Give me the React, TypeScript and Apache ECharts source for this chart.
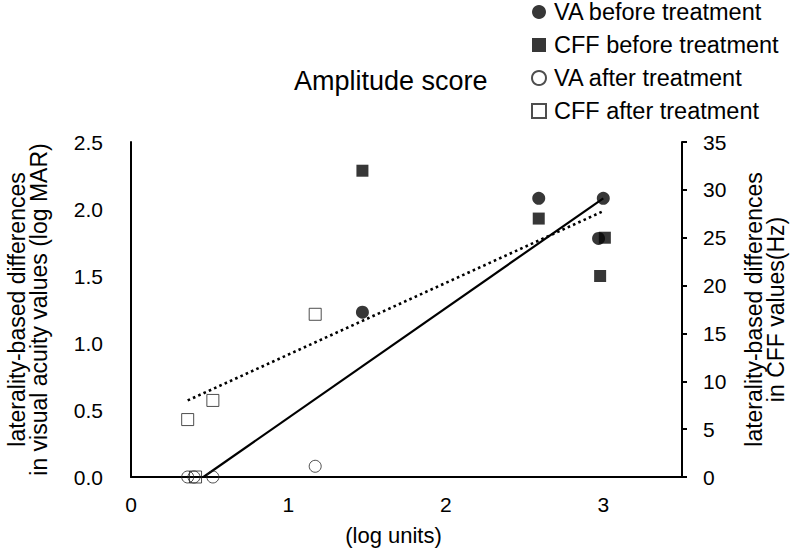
import React, { useEffect, useRef } from "react";
import * as echarts from "echarts";

// ---- data ----
const vaBefore: [number, number][] = [
  [1.47, 1.23],
  [2.59, 2.08],
  [3.0, 2.08],
  [2.97, 1.78],
];
const cffBefore: [number, number][] = [
  [1.47, 32],
  [2.59, 27],
  [3.01, 25],
  [2.98, 21],
];
const vaAfter: [number, number][] = [
  [0.36, 0],
  [0.4, 0],
  [0.52, 0],
  [1.17, 0.08],
];
const cffAfter: [number, number][] = [
  [0.36, 6],
  [0.52, 8],
  [1.17, 17],
  [0.41, 0],
];
// regression lines (end points)
const vaTrend: [number, number][] = [
  [0.46, 0],
  [3.0, 2.08],
];
const cffTrend: [number, number][] = [
  [0.36, 8.0],
  [2.99, 27.7],
];

const leftAxisName = "laterality-based differences\nin visual acuity values (log MAR)";
const rightAxisName = "laterality-based differences\nin CFF values(Hz)";
const xAxisName = "(log units)";
const titleText = "Amplitude score";
const legendNames = [
  "VA before treatment",
  "CFF before treatment",
  "VA after treatment",
  "CFF after treatment",
];

const FONT = "'Liberation Sans', Arial, Helvetica, sans-serif";
const INK = "#000000";

export default function App() {
  const ref = useRef<HTMLDivElement>(null);

  useEffect(() => {
    if (!ref.current) return;
    const chart = echarts.init(ref.current, undefined, { renderer: "svg" });
    const axisLine = { show: true, lineStyle: { color: INK, width: 2 } };
    chart.setOption({
      animation: false,
      backgroundColor: "#ffffff",
      textStyle: { fontFamily: FONT, color: INK },
      title: {
        text: titleText,
        left: 294,
        top: 67,
        padding: 0,
        textStyle: { fontSize: 27, fontWeight: "normal", color: INK, fontFamily: FONT },
      },
      legend: {
        data: legendNames,
        orient: "vertical",
        left: 531,
        top: 0,
        padding: 0,
        itemGap: 9,
        itemWidth: 14,
        itemHeight: 14,
        selectedMode: false,
        textStyle: {
          fontSize: 23.5,
          lineHeight: 22,
          color: INK,
          fontFamily: FONT,
          padding: [0, 0, 0, 3],
        },
      },
      grid: {
        left: 131,
        right: 118,
        top: 142,
        bottom: 75,
        containLabel: false,
        outerBoundsMode: "none",
      },
      xAxis: {
        type: "value",
        min: 0,
        max: 3.5,
        interval: 1,
        name: xAxisName,
        nameLocation: "middle",
        nameGap: 47,
        nameTextStyle: { fontSize: 22, color: INK, fontFamily: FONT, padding: [0, 26, 0, 0] },
        axisLine,
        axisTick: { show: false },
        splitLine: { show: false },
        axisLabel: {
          fontSize: 21,
          color: INK,
          margin: 17,
          showMaxLabel: false,
          formatter: (v: number) => (Number.isInteger(v) ? String(v) : ""),
        },
      },
      yAxis: [
        {
          type: "value",
          min: 0,
          max: 2.5,
          interval: 0.5,
          position: "left",
          name: leftAxisName,
          nameLocation: "middle",
          nameGap: 81,
          nameTextStyle: { fontSize: 23, color: INK, fontFamily: FONT, lineHeight: 22 },
          axisLine,
          axisTick: { show: false },
          splitLine: { show: false },
          axisLabel: {
            fontSize: 21,
            color: INK,
            margin: 28,
            formatter: (v: number) => v.toFixed(1),
          },
        },
        {
          type: "value",
          min: 0,
          max: 35,
          interval: 5,
          position: "right",
          name: rightAxisName,
          nameLocation: "middle",
          nameGap: 61,
          nameRotate: 90,
          nameTextStyle: { fontSize: 23, color: INK, fontFamily: FONT, lineHeight: 22 },
          axisLine,
          axisTick: { show: true, length: 5, inside: false, lineStyle: { color: INK, width: 2 } },
          splitLine: { show: false },
          axisLabel: { fontSize: 21, color: INK, margin: 21 },
        },
      ],
      series: [
        {
          name: "VA trend",
          type: "line",
          yAxisIndex: 0,
          data: vaTrend,
          showSymbol: false,
          silent: true,
          lineStyle: { color: INK, width: 2.2, type: "solid" },
          z: 1,
        },
        {
          name: "CFF trend",
          type: "line",
          yAxisIndex: 1,
          data: cffTrend,
          showSymbol: false,
          silent: true,
          lineStyle: { color: INK, width: 2.6, type: [2.6, 3.2] },
          z: 1,
        },
        {
          name: legendNames[0],
          type: "scatter",
          yAxisIndex: 0,
          data: vaBefore,
          symbol: "circle",
          symbolSize: 13,
          itemStyle: { color: "#050505" },
          z: 3,
        },
        {
          name: legendNames[1],
          type: "scatter",
          yAxisIndex: 1,
          data: cffBefore,
          symbol: "rect",
          symbolSize: 12,
          itemStyle: { color: "#050505" },
          z: 3,
        },
        {
          name: legendNames[2],
          type: "scatter",
          yAxisIndex: 0,
          data: vaAfter,
          symbol: "circle",
          symbolSize: 12,
          itemStyle: { color: "rgba(255,255,255,0)", borderColor: "#222222", borderWidth: 1 },
          z: 3,
        },
        {
          name: legendNames[3],
          type: "scatter",
          yAxisIndex: 1,
          data: cffAfter,
          symbol: "rect",
          symbolSize: 12,
          itemStyle: { color: "rgba(255,255,255,0)", borderColor: "#222222", borderWidth: 1 },
          z: 3,
        },
      ],
    });
    return () => chart.dispose();
  }, []);

  return (
    <div
      ref={ref}
      style={{ position: "fixed", left: 0, top: 0, width: 800, height: 552, background: "#fff" }}
    />
  );
}
